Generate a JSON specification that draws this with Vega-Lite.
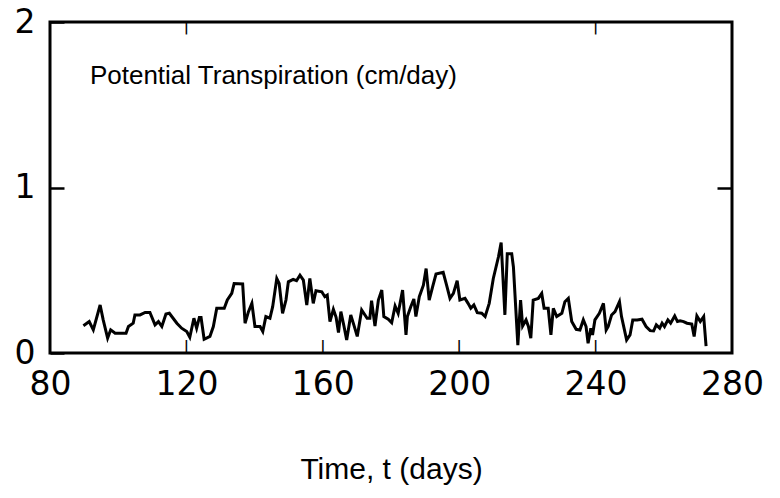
{
  "$schema": "https://vega.github.io/schema/vega-lite/v6.json",
  "autosize": {"type": "none"},
  "padding": {"left": 50, "top": 22, "right": 48, "bottom": 145},
  "width": 682,
  "height": 331,
  "background": "white",
  "config": {
    "view": {"stroke": "black", "strokeWidth": 3},
    "axis": {"labelColor": "black", "tickColor": "black", "titleColor": "black", "grid": false, "domain": false, "tickWidth": 2.5, "zindex": 2, "ticks": true, "tickOpacity": 1}
  },
  "datasets": {
    "pt": [
      {"t": 89.8, "v": 0.165}, {"t": 91.5, "v": 0.19}, {"t": 92.7, "v": 0.14}, {"t": 94.7, "v": 0.29}, {"t": 95.6, "v": 0.20},
      {"t": 96.9, "v": 0.09}, {"t": 97.8, "v": 0.14}, {"t": 99.1, "v": 0.12}, {"t": 102.3, "v": 0.12}, {"t": 103.0, "v": 0.16},
      {"t": 104.4, "v": 0.18}, {"t": 104.9, "v": 0.23}, {"t": 106.4, "v": 0.23}, {"t": 107.9, "v": 0.245}, {"t": 109.3, "v": 0.245},
      {"t": 110.8, "v": 0.17}, {"t": 111.8, "v": 0.19}, {"t": 112.8, "v": 0.16}, {"t": 114.0, "v": 0.235}, {"t": 115.0, "v": 0.24},
      {"t": 117.2, "v": 0.18}, {"t": 118.6, "v": 0.15}, {"t": 120.1, "v": 0.13}, {"t": 121.0, "v": 0.095}, {"t": 122.2, "v": 0.21},
      {"t": 123.0, "v": 0.15}, {"t": 123.8, "v": 0.215}, {"t": 124.3, "v": 0.215}, {"t": 125.2, "v": 0.083}, {"t": 126.9, "v": 0.10},
      {"t": 127.9, "v": 0.16}, {"t": 128.9, "v": 0.27}, {"t": 131.1, "v": 0.27}, {"t": 132.0, "v": 0.32}, {"t": 133.3, "v": 0.36},
      {"t": 134.0, "v": 0.42}, {"t": 136.5, "v": 0.417}, {"t": 137.2, "v": 0.18}, {"t": 138.2, "v": 0.25}, {"t": 139.2, "v": 0.30},
      {"t": 140.1, "v": 0.16}, {"t": 141.6, "v": 0.16}, {"t": 142.4, "v": 0.13}, {"t": 143.3, "v": 0.22}, {"t": 144.5, "v": 0.21},
      {"t": 145.3, "v": 0.28}, {"t": 146.5, "v": 0.45}, {"t": 147.2, "v": 0.42}, {"t": 148.2, "v": 0.24}, {"t": 149.2, "v": 0.32},
      {"t": 149.9, "v": 0.43}, {"t": 151.3, "v": 0.445}, {"t": 152.3, "v": 0.437}, {"t": 153.3, "v": 0.47}, {"t": 154.3, "v": 0.44},
      {"t": 155.3, "v": 0.29}, {"t": 156.2, "v": 0.45}, {"t": 157.2, "v": 0.30}, {"t": 158.0, "v": 0.376}, {"t": 159.7, "v": 0.37},
      {"t": 160.6, "v": 0.34}, {"t": 161.3, "v": 0.35}, {"t": 162.1, "v": 0.19}, {"t": 163.1, "v": 0.264}, {"t": 163.9, "v": 0.216},
      {"t": 164.6, "v": 0.123}, {"t": 165.3, "v": 0.25}, {"t": 166.2, "v": 0.163}, {"t": 167.0, "v": 0.079}, {"t": 168.2, "v": 0.23},
      {"t": 169.1, "v": 0.17}, {"t": 170.1, "v": 0.10}, {"t": 171.4, "v": 0.26}, {"t": 173.0, "v": 0.21}, {"t": 173.8, "v": 0.21},
      {"t": 174.3, "v": 0.316}, {"t": 175.3, "v": 0.163}, {"t": 176.3, "v": 0.32}, {"t": 177.3, "v": 0.38}, {"t": 177.9, "v": 0.22},
      {"t": 179.2, "v": 0.204}, {"t": 180.2, "v": 0.183}, {"t": 181.2, "v": 0.284}, {"t": 182.1, "v": 0.24}, {"t": 183.4, "v": 0.38},
      {"t": 184.4, "v": 0.109}, {"t": 184.8, "v": 0.22}, {"t": 185.8, "v": 0.28}, {"t": 186.7, "v": 0.326}, {"t": 187.3, "v": 0.22},
      {"t": 188.3, "v": 0.34}, {"t": 189.5, "v": 0.41}, {"t": 190.3, "v": 0.51}, {"t": 191.2, "v": 0.32}, {"t": 192.2, "v": 0.40},
      {"t": 193.2, "v": 0.477}, {"t": 195.3, "v": 0.487}, {"t": 196.3, "v": 0.41}, {"t": 197.3, "v": 0.33}, {"t": 198.3, "v": 0.36},
      {"t": 199.4, "v": 0.437}, {"t": 200.2, "v": 0.32}, {"t": 201.7, "v": 0.33}, {"t": 202.6, "v": 0.30}, {"t": 203.4, "v": 0.27},
      {"t": 204.3, "v": 0.29}, {"t": 205.3, "v": 0.244}, {"t": 206.6, "v": 0.24}, {"t": 207.6, "v": 0.22}, {"t": 208.8, "v": 0.30},
      {"t": 210.0, "v": 0.45}, {"t": 211.5, "v": 0.58}, {"t": 212.3, "v": 0.667}, {"t": 213.4, "v": 0.23}, {"t": 214.1, "v": 0.60},
      {"t": 215.4, "v": 0.60}, {"t": 215.9, "v": 0.52}, {"t": 217.2, "v": 0.048}, {"t": 218.0, "v": 0.32}, {"t": 218.6, "v": 0.163},
      {"t": 219.6, "v": 0.20}, {"t": 220.3, "v": 0.16}, {"t": 221.0, "v": 0.089}, {"t": 221.7, "v": 0.32}, {"t": 223.2, "v": 0.33},
      {"t": 224.2, "v": 0.36}, {"t": 224.9, "v": 0.27}, {"t": 226.1, "v": 0.27}, {"t": 226.9, "v": 0.109}, {"t": 227.6, "v": 0.27},
      {"t": 228.6, "v": 0.22}, {"t": 230.1, "v": 0.24}, {"t": 231.0, "v": 0.31}, {"t": 232.0, "v": 0.33}, {"t": 233.0, "v": 0.19},
      {"t": 234.3, "v": 0.143}, {"t": 235.4, "v": 0.139}, {"t": 236.4, "v": 0.20}, {"t": 237.2, "v": 0.16}, {"t": 237.8, "v": 0.059},
      {"t": 238.6, "v": 0.15}, {"t": 239.1, "v": 0.109}, {"t": 239.8, "v": 0.20}, {"t": 241.1, "v": 0.24}, {"t": 242.3, "v": 0.30},
      {"t": 243.1, "v": 0.139}, {"t": 243.7, "v": 0.16}, {"t": 244.7, "v": 0.23}, {"t": 245.7, "v": 0.25}, {"t": 247.0, "v": 0.31},
      {"t": 247.6, "v": 0.22}, {"t": 249.1, "v": 0.079}, {"t": 250.1, "v": 0.109}, {"t": 250.9, "v": 0.20}, {"t": 252.2, "v": 0.20},
      {"t": 253.6, "v": 0.204}, {"t": 254.8, "v": 0.16}, {"t": 256.0, "v": 0.135}, {"t": 257.0, "v": 0.133}, {"t": 257.8, "v": 0.17},
      {"t": 258.8, "v": 0.15}, {"t": 259.5, "v": 0.18}, {"t": 260.2, "v": 0.16}, {"t": 261.2, "v": 0.20}, {"t": 262.0, "v": 0.18},
      {"t": 263.2, "v": 0.224}, {"t": 264.0, "v": 0.19}, {"t": 264.8, "v": 0.195}, {"t": 265.8, "v": 0.19}, {"t": 266.8, "v": 0.18},
      {"t": 268.2, "v": 0.175}, {"t": 268.9, "v": 0.10}, {"t": 269.7, "v": 0.224}, {"t": 270.7, "v": 0.19}, {"t": 271.7, "v": 0.22},
      {"t": 272.4, "v": 0.042}
    ],
    "note": [{"t": 91.7, "v": 1.625, "label": "Potential Transpiration (cm/day)"}],
    "bottomTicks": [{"t": 120}, {"t": 160}, {"t": 200}, {"t": 240}],
    "topTicks": [{"t": 120}, {"t": 240}]
  },
  "layer": [
    {
      "data": {"name": "pt"},
      "mark": {"type": "line", "color": "black", "strokeWidth": 3, "strokeJoin": "miter", "clip": true},
      "encoding": {
        "x": {
          "field": "t", "type": "quantitative",
          "scale": {"domain": [80, 280], "nice": false, "zero": false},
          "axis": {
            "orient": "bottom", "values": [80, 120, 160, 200, 240, 280], "labelExpr": "'' + datum.value",
            "ticks": false, "labelPadding": 15,
            "labelFont": "DejaVu Sans", "labelFontSize": 33,
            "labelFlush": false, "labelOverlap": false,
            "title": "Time, t (days)", "titleFont": "Liberation Sans", "titleFontSize": 30,
            "titleFontWeight": "normal", "titlePadding": 53
          }
        },
        "y": {
          "field": "v", "type": "quantitative",
          "scale": {"domain": [0, 2], "nice": false},
          "axis": {
            "orient": "left", "values": [0, 1, 2], "labelExpr": "'' + datum.value",
            "tickSize": -14, "labelPadding": 29, "labelFont": "DejaVu Sans", "labelFontSize": 33,
            "labelFlush": false, "labelOverlap": false, "title": null
          }
        }
      }
    },
    {
      "data": {"name": "note"},
      "mark": {"type": "text", "align": "left", "baseline": "alphabetic", "font": "Liberation Sans", "fontSize": 26, "color": "black"},
      "encoding": {
        "x": {"field": "t", "type": "quantitative", "axis": null},
        "y": {
          "field": "v", "type": "quantitative",
          "axis": {"orient": "right", "values": [1], "labels": false, "tickSize": -15, "title": null}
        },
        "text": {"field": "label"}
      }
    },
    {
      "data": {"name": "bottomTicks"},
      "mark": {"type": "text", "text": "|", "font": "DejaVu Sans", "fontSize": 13, "fontWeight": "bold", "align": "center", "baseline": "bottom", "color": "black"},
      "encoding": {
        "x": {"field": "t", "type": "quantitative", "axis": null},
        "y": {"datum": 0, "type": "quantitative", "axis": null}
      }
    },
    {
      "data": {"name": "topTicks"},
      "mark": {"type": "text", "text": "|", "font": "DejaVu Sans", "fontSize": 13, "fontWeight": "bold", "align": "center", "baseline": "top", "color": "black"},
      "encoding": {
        "x": {"field": "t", "type": "quantitative", "axis": null},
        "y": {"datum": 2, "type": "quantitative", "axis": null}
      }
    }
  ],
  "resolve": {"axis": {"x": "independent", "y": "independent"}}
}
